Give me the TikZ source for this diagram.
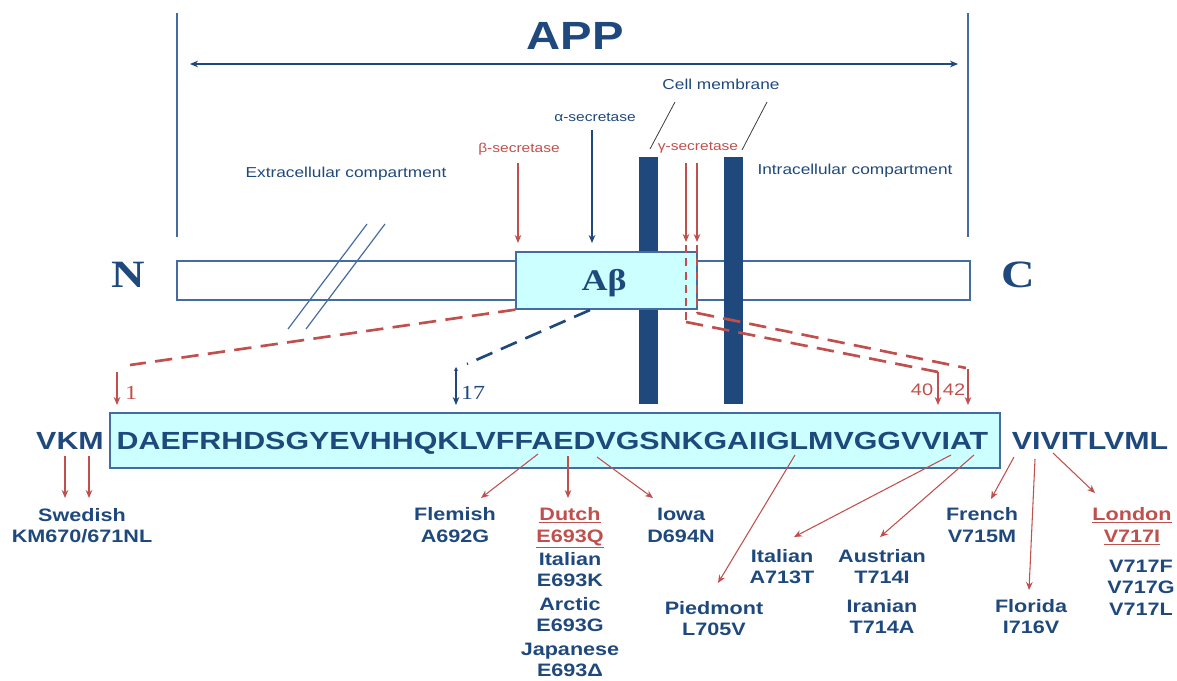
\documentclass[tikz,border=0pt]{standalone}
\usepackage{fontspec}
\setmainfont[FakeStretch=1.2]{Liberation Sans}
\newfontfamily\sansx[FakeStretch=1.2]{Liberation Sans}
\newfontfamily\seqx[FakeStretch=1.225]{Liberation Sans}
\newfontfamily\serifx[FakeStretch=1.2]{Liberation Serif}
\usetikzlibrary{arrows.meta}
\definecolor{navy}{RGB}{31,73,125}
\definecolor{rd}{RGB}{192,80,77}
\definecolor{cy}{RGB}{204,255,255}
\definecolor{edgec}{RGB}{68,108,160}
\definecolor{greyl}{RGB}{60,60,60}
\begin{document}
\begin{tikzpicture}[x=0.75pt,y=-0.75pt,
  lbl/.style={font=\sansx\bfseries\fontsize{13.5}{16}\selectfont, text=navy, inner sep=0pt, anchor=base},
  rlbl/.style={lbl, text=rd},
  small/.style={font=\sansx\fontsize{10.8}{13}\selectfont, text=navy, inner sep=0pt, anchor=base},
  sec/.style={font=\sansx\fontsize{9.7}{12}\selectfont, inner sep=0pt, anchor=base},
  seq/.style={font=\seqx\bfseries\fontsize{18.6}{22}\selectfont, text=navy, inner sep=0pt, anchor=base},
  num/.style={font=\serifx\fontsize{15}{17}\selectfont, inner sep=0pt, anchor=base},
  snum/.style={font=\sansx\fontsize{12.5}{14}\selectfont, text=rd, inner sep=0pt, anchor=base},
  term/.style={font=\serifx\bfseries\fontsize{29}{34}\selectfont, text=navy, inner sep=0pt, anchor=base},
  tip/.style={-{Stealth[length=6pt,width=5pt]}},
  rarr/.style={draw=rd, line width=0.8pt, tip},
  barr/.style={draw=navy, line width=0.8pt, tip},
  rdash/.style={draw=rd, line width=2pt, dash pattern=on 13pt off 7pt},
  bdash/.style={draw=navy, line width=2pt, dash pattern=on 13pt off 7pt},
  vdash/.style={draw=rd, line width=1.4pt, dash pattern=on 6pt off 4pt},
  thin/.style={draw=edgec, line width=0.9pt},
]
\useasboundingbox (0,0) rectangle (1177,681);

% title and span
\node[font=\sansx\bfseries\fontsize{29.5}{34}\selectfont, text=navy, inner sep=0pt, anchor=base] (app) at (575,50) {APP};
\coordinate (vlt) at (177,13); \coordinate (vlb) at (177,237);
\coordinate (vrt) at (968,13); \coordinate (vrb) at (968,237);
\draw[thin] (vlt) -- (vlb);
\draw[thin] (vrt) -- (vrb);
\coordinate (spanL) at (190,64); \coordinate (spanR) at (958,64);
\draw[draw=navy, line width=0.8pt, {Stealth[length=6pt,width=5pt]}-{Stealth[length=6pt,width=5pt]}] (spanL) -- (spanR);

% APP bar
\draw[thin, fill=white] (177,261) rectangle (970,300);
% membranes
\fill[navy] (639,157) rectangle (658,404);
\fill[navy] (724,157) rectangle (743,404);
% Abeta box
\node[draw=edgec, fill=cy, line width=1pt, minimum width=135.75pt, minimum height=42.75pt, inner sep=0pt] (abbox) at (606.5,280.5) {};
\node[font=\serifx\bfseries\fontsize{22.5}{26}\selectfont, text=navy, inner sep=0pt, anchor=base] (ab) at (604,290) {Aβ};

% break marks
\coordinate (b1t) at (367,224); \coordinate (b1b) at (288,329);
\coordinate (b2t) at (385,224); \coordinate (b2b) at (306,329);
\draw[thin] (b1t) -- (b1b);
\draw[thin] (b2t) -- (b2b);

% labels top
\node[small] (cm) at (721,90) {Cell membrane};
\coordinate (cm1t) at (675,102); \coordinate (cm1b) at (650,149);
\coordinate (cm2t) at (767,102); \coordinate (cm2b) at (742,150);
\draw[draw=greyl, line width=0.6pt] (cm1t) -- (cm1b);
\draw[draw=greyl, line width=0.6pt] (cm2t) -- (cm2b);
\node[sec, text=navy] (alpha) at (595,122) {α-secretase};
\node[sec, text=rd] (beta) at (519,152) {β-secretase};
\node[sec, text=rd] (gamma) at (698,151) {γ-secretase};
\node[small] (extra) at (346,177) {Extracellular compartment};
\node[small] (intra) at (855,175) {Intracellular compartment};

\coordinate (aS) at (592,130); \coordinate (aE) at (592,243);
\coordinate (bS) at (518,163); \coordinate (bE) at (518,243);
\coordinate (g1S) at (686,163); \coordinate (g1E) at (686,242);
\coordinate (g2S) at (697,163); \coordinate (g2E) at (697,242);
\draw[barr] (aS) -- (aE);
\draw[rarr] (bS) -- (bE);
\draw[rarr] (g1S) -- (g1E);
\draw[rarr] (g2S) -- (g2E);

\node[term] (N) at (128,287) {N};
\node[term] (C) at (1018,287) {C};

% sequence
\node[draw=edgec, fill=cy, line width=1.2pt, minimum width=667.5pt, minimum height=41.25pt, inner sep=0pt] (seqbox) at (555,440.5) {};
\node[seq] (seq) at (552.5,449.5) {DAEFRHDSGYEVHHQKLVFFAEDVGSNKGAIIGLMVGGVVIAT};
\node[seq] (vkm) at (70,449.5) {VKM};
\node[seq] (vivi) at (1090,449.5) {VIVITLVML};

% numbers
\node[num, text=rd] (n1) at (131,399) {1};
\node[num, text=navy] (n17) at (473,399) {17};
\node[snum] (n40) at (922,395) {40};
\node[snum] (n42) at (954,395) {42};

% dashed projections
\coordinate (d1e) at (130,365);
\draw[rdash] (abbox.south west) -- (d1e);
\coordinate (d17s) at (590,310); \coordinate (d17e) at (467,364);
\draw[bdash] (d17s) -- (d17e);
\coordinate (c40a) at (686,245); \coordinate (c40b) at (686,322); \coordinate (c40c) at (938,372);
\coordinate (c42a) at (697,245); \coordinate (c42b) at (697,313); \coordinate (c42c) at (966,368);
\draw[vdash] (c40a) -- (c40b);
\draw[vdash] (c42a) -- (c42b);
\draw[rdash] (c40b) -- (c40c);
\draw[rdash] (c42b) -- (c42c);

\coordinate (a1s) at (117,372); \coordinate (a1e) at (117,405);
\coordinate (a17s) at (456,367); \coordinate (a17e) at (456,405);
\coordinate (a40e) at (938,405);
\coordinate (a42s) at (968,369); \coordinate (a42e) at (968,405);
\draw[rarr] (a1s) -- (a1e);
\draw[draw=navy, line width=0.8pt, {Stealth[length=3pt,width=3pt]}-{Stealth[length=6pt,width=5pt]}] (a17s) -- (a17e);
\draw[rarr] (c40c) -- (a40e);
\draw[rarr] (a42s) -- (a42e);

% mutation labels
\node[lbl] (swe) at (82,521) {Swedish};
\node[lbl] (swe2) at (82,542) {KM670/671NL};
\node[lbl] (fle) at (455,520) {Flemish};
\node[lbl] (fle2) at (455,542) {A692G};
\node[rlbl] (dut) at (570,520) {\underline{Dutch}};
\node[rlbl] (dut2) at (570,542) {\underline{E693Q}};
\node[lbl] (ita) at (570,565) {Italian};
\node[lbl] (ita2) at (570,586) {E693K};
\node[lbl] (arc) at (570,610) {Arctic};
\node[lbl] (arc2) at (570,631) {E693G};
\node[lbl] (jap) at (570,655) {Japanese};
\node[lbl] (jap2) at (570,676) {E693Δ};
\node[lbl] (iow) at (681,520) {Iowa};
\node[lbl] (iow2) at (681,542) {D694N};
\node[lbl] (pie) at (714,614) {Piedmont};
\node[lbl] (pie2) at (714,635) {L705V};
\node[lbl] (itb) at (782,562) {Italian};
\node[lbl] (itb2) at (782,583) {A713T};
\node[lbl] (aus) at (882,562) {Austrian};
\node[lbl] (aus2) at (882,583) {T714I};
\node[lbl] (ira) at (882,612) {Iranian};
\node[lbl] (ira2) at (882,633) {T714A};
\node[lbl] (fre) at (982,520) {French};
\node[lbl] (fre2) at (982,542) {V715M};
\node[lbl] (flo) at (1031,612) {Florida};
\node[lbl] (flo2) at (1031,633) {I716V};
\node[rlbl] (lon) at (1132,520) {\underline{London}};
\node[rlbl] (lon2) at (1132,542) {\underline{V717I}};
\node[lbl] (v7f) at (1141,572) {V717F};
\node[lbl] (v7g) at (1141,593) {V717G};
\node[lbl] (v7l) at (1141,615) {V717L};

% mutation arrows
\coordinate (s1) at (65,456); \coordinate (e1) at (65,498);
\coordinate (s2) at (89,456); \coordinate (e2) at (89,498);
\coordinate (sFl) at (538,454); \coordinate (eFl) at (481,498);
\coordinate (sDu) at (568,456); \coordinate (eDu) at (568,498);
\coordinate (sIo) at (597,457); \coordinate (eIo) at (653,498);
\coordinate (sPi) at (795,455); \coordinate (ePi) at (718,583);
\coordinate (sIt) at (951,455); \coordinate (eIt) at (794,537);
\coordinate (sAu) at (974,455); \coordinate (eAu) at (880,537);
\coordinate (sFr) at (1014,457); \coordinate (eFr) at (991,499);
\coordinate (sFo) at (1035,459); \coordinate (eFo) at (1029,590);
\coordinate (sLo) at (1053,453); \coordinate (eLo) at (1095,493);
\foreach \a/\b in {s1/e1,s2/e2,sFl/eFl,sDu/eDu,sIo/eIo,sPi/ePi,sIt/eIt,sAu/eAu,sFr/eFr,sFo/eFo,sLo/eLo}
  \draw[rarr] (\a) -- (\b);
\end{tikzpicture}
\end{document}
